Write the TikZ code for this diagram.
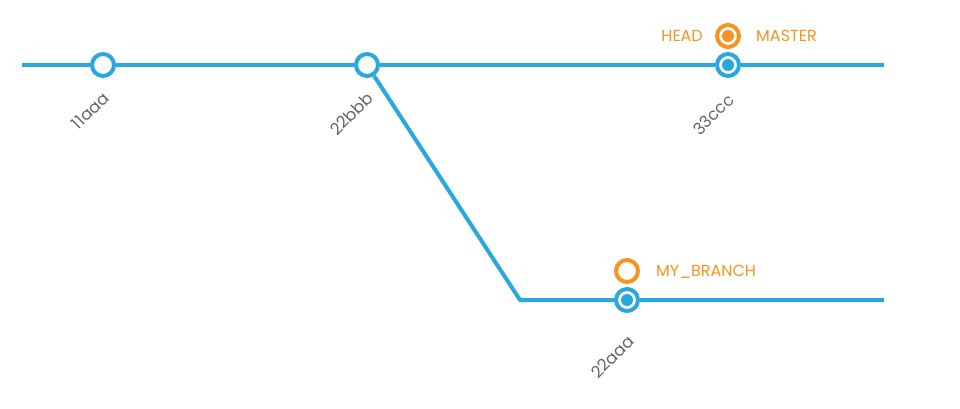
\documentclass[tikz,border=0pt]{standalone}
\usepackage{fontspec}
\setmainfont{Poppins}
\usetikzlibrary{backgrounds}
\definecolor{gblue}{HTML}{29A8E0}
\definecolor{gorange}{HTML}{F7931E}
\definecolor{ggray}{HTML}{666666}
\tikzset{
  commit/.style={circle,draw=gblue,fill=white,line width=4pt,minimum size=22pt,inner sep=0pt},
  tip/.style={circle,draw=gorange,fill=white,line width=4pt,minimum size=22pt,inner sep=0pt},
  dotblue/.style={circle,fill=gblue,minimum size=12pt,inner sep=0pt},
  dotorange/.style={circle,fill=gorange,minimum size=12pt,inner sep=0pt},
  hash/.style={rotate=45,anchor=east,text=ggray,font=\fontsize{16.5pt}{18pt}\selectfont,inner sep=0pt},
  ref/.style={text=gorange,font=\fontsize{16pt}{18pt}\selectfont,inner sep=0pt},
  branchline/.style={draw=gblue,line width=4pt}
}
\begin{document}
\begin{tikzpicture}[x=1pt,y=-1pt]
\useasboundingbox (0,0) rectangle (960,409);
\coordinate (mstart) at (22,65);
\coordinate (mend) at (884,65);
\coordinate (bend) at (520,300);
\coordinate (bendend) at (884,300);
\node[commit] (c1) at (103,65) {};
\node[commit] (c2) at (367,65) {};
\node[commit] (c3) at (728,65) {};
\node[dotblue] (c3dot) at (c3) {};
\node[commit] (b1) at (627,300) {};
\node[dotblue] (b1dot) at (b1) {};
\node[tip] (head) at (728,36) {};
\node[dotorange] (headdot) at (head) {};
\node[tip] (mybranch) at (627,271) {};
\node[hash] (l1) at (106,95) {11aaa};
\node[hash] (l2) at (370,95) {22bbb};
\node[hash] (l3) at (731,97) {33ccc};
\node[hash] (l4) at (631,338) {22aaa};
\node[ref,anchor=east] (headlbl) at (703,36) {HEAD};
\node[ref,anchor=west] (masterlbl) at (756,36) {MASTER};
\node[ref,anchor=west] (brlbl) at (656,272) {MY\_BRANCH};
\begin{scope}[on background layer]
\draw[branchline] (mstart) -- (c1) -- (c2) -- (c3) -- (mend);
\draw[branchline] (c2) -- (bend) -- (b1) -- (bendend);
\end{scope}
\end{tikzpicture}
\end{document}
